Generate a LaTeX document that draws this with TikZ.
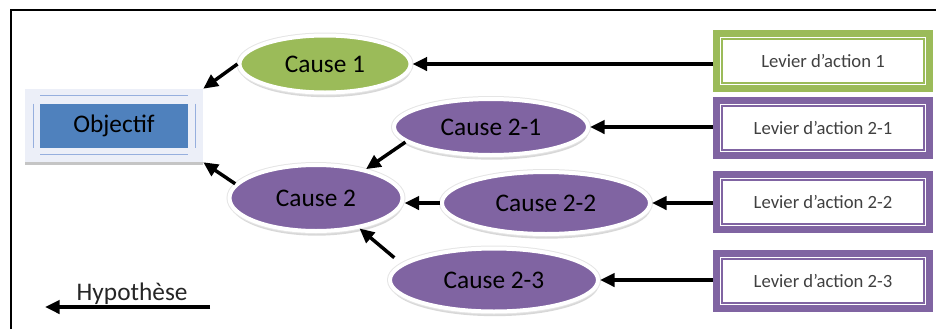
\documentclass[tikz,border=0pt]{standalone}
\usepackage{fontspec}
\setmainfont{Carlito}
\usepackage{tikz}
\usetikzlibrary{positioning}
\usetikzlibrary{shapes,arrows.meta,shadows}
\definecolor{cvert}{RGB}{155,187,89}
\definecolor{cviolet}{RGB}{128,100,162}
\definecolor{cbleu}{RGB}{79,129,189}
\definecolor{cfond}{RGB}{236,239,248}
\definecolor{cfilet}{RGB}{150,175,222}
\tikzstyle{cause} = [ellipse, draw=white, line width=3pt, inner sep=0pt,
                drop shadow={shadow xshift=0.5pt, shadow yshift=-3.5pt, fill=black!30},
                preaction={draw=black!10, line width=4.5pt},
                font=\fontsize{19}{22}\selectfont]
\tikzstyle{lever} = [rectangle, line width=5.25pt, fill=white, inner sep=0pt,
                minimum width=159.75pt, minimum height=41.25pt,
                text=black!75, font=\fontsize{14}{17}\selectfont]
\tikzstyle{cadre} = [rectangle, fill=cfond, minimum width=133.5pt, minimum height=54.75pt,
                drop shadow={shadow xshift=0pt, shadow yshift=-2.5pt, fill=black!45}]
\tikzstyle{line} = [draw, line width=2.6pt, -{Triangle[length=11pt,width=10pt]}]

\begin{document}
\begin{tikzpicture}[x=0.75pt, y=-0.75pt]
        \useasboundingbox (0,0) rectangle (936,329);
        \draw[line width=1.5pt] (11,329) -- (11,10) -- (936,10);
        % objectif
        \node[cadre](cadre) at (114,125.5){};
        \node[rectangle, fill=cbleu, minimum width=111pt, minimum height=33pt, outer sep=0pt,
              font=\fontsize{19}{22}\selectfont](objectif) at (cadre.center){Objectif};
        \draw[cfilet, line width=0.75pt]
            ([yshift=6pt]objectif.north west) -- ([yshift=6pt]objectif.north east)
            ([yshift=-5.25pt]objectif.south west) -- ([yshift=-5.25pt]objectif.south east)
            ([xshift=-5.25pt]objectif.north west) -- ([xshift=-5.25pt]objectif.south west)
            ([xshift=5.25pt]objectif.north east) -- ([xshift=5.25pt]objectif.south east);
        % causes
        \node[cause, fill=cvert, minimum width=128.25pt, minimum height=42.75pt](c1) at (325,64){Cause 1};
        \node[cause, fill=cviolet, minimum width=145.5pt, minimum height=42pt](c21) at (491,127){Cause 2-1};
        \node[cause, fill=cviolet, minimum width=129.75pt, minimum height=49.5pt](c2) at (316,198){Cause 2};
        \node[cause, fill=cviolet, minimum width=156pt, minimum height=46.5pt](c22) at (546,203){Cause 2-2};
        \node[cause, fill=cviolet, minimum width=156pt, minimum height=47.25pt](c23) at (494,280){Cause 2-3};
        % leviers
        \node[lever, draw=cvert](l1) at (823,61){Levier d’action 1};
        \node[lever, draw=cviolet, below=3.75pt of l1](l21){Levier d’action 2-1};
        \node[lever, draw=cviolet, below=9pt of l21](l22){Levier d’action 2-2};
        \node[lever, draw=cviolet, below=12.75pt of l22](l23){Levier d’action 2-3};
        \foreach \n/\c in {l1/cvert, l21/cviolet, l22/cviolet, l23/cviolet}
            \draw[\c, line width=1.1pt] ([shift={(9,9)}]\n.north west) rectangle ([shift={(-9,-9)}]\n.south east);
        % fleches
        \foreach \l/\c in {l1/c1, l21/c21, l22/c22, l23/c23}
            \path[line] (\l.west |- \c) -- (\c.east);
        \path[line] (c1.west) -- (cadre.north east);
        \path[line] (c2.170) -- (cadre.south east);
        \path[line] (c21.190) -- (c2.30);
        \path[line] (c22.west) -- (c22.west -| c2.east);
        \path[line, shorten <=7pt] (c23.170) -- (c2.-35);
        % legende
        \node[anchor=base west, text=black!85, font=\fontsize{19}{22}\selectfont](hyp) at (72,300){Hypothèse};
        \coordinate (hypd) at (210,307);
        \coordinate (hypg) at (45,307);
        \path[line] (hypd) -- (hypg);
    \end{tikzpicture}
\end{document}
